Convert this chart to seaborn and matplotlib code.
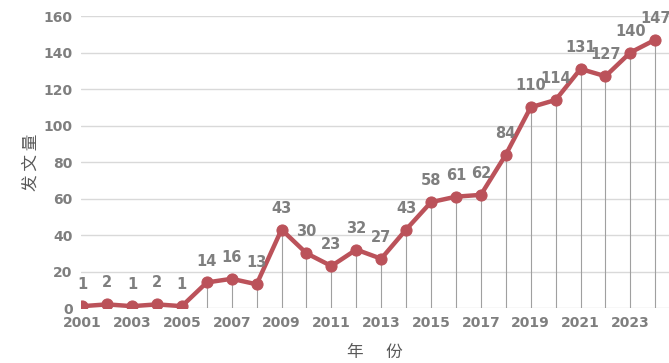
import pandas as pd
import matplotlib
matplotlib.use('Agg')
import matplotlib.pyplot as plt
import seaborn as sns

# dados
anos = list(range(2001, 2025))
valores = [1, 2, 1, 2, 1, 14, 16, 13, 43, 30, 23, 32, 27, 43, 58, 61, 62, 84,
           110, 114, 131, 127, 140, 147]
ticks_x = list(range(2001, 2025, 2))
ticks_y = list(range(0, 161, 20))

df = pd.DataFrame({'ano': anos, 'n': valores})

sns.set_style('white')
plt.rcParams['font.family'] = ['Noto Sans CJK SC', 'DejaVu Sans']

cor_linha = '#bb525a'
cor_texto = '#7f7f7f'

fig = plt.figure(figsize=(6.69, 3.63), dpi=100)
ax = fig.add_axes([0.121, 0.1515, 0.879, 0.8044])

# linhas verticais até o eixo
ax.vlines(df['ano'], 0, df['n'], color='#a0a0a0', linewidth=0.8, zorder=1)
for y in ticks_y:
    ax.axhline(y, color='#d9d9d9', linewidth=1, zorder=0)

sns.lineplot(data=df, x='ano', y='n', color=cor_linha, linewidth=3.2,
             marker='o', markersize=8, markeredgecolor=cor_linha, ax=ax, zorder=3)

for a, v in zip(anos, valores):
    ax.annotate(str(v), (a, v), xytext=(0, 10), textcoords='offset points',
                ha='center', va='bottom', fontsize=10.5, fontweight='bold',
                color=cor_texto, family='DejaVu Sans')

ax.set_xlim(2000.95, 2024.55)
ax.set_ylim(0, 160)
ax.set_xticks(ticks_x)
ax.set_yticks(ticks_y)
ax.tick_params(length=0, labelsize=10, labelcolor=cor_texto, pad=6)
for lab in ax.get_xticklabels() + ax.get_yticklabels():
    lab.set_fontweight('bold')
    lab.set_family('DejaVu Sans')
for s in ax.spines.values():
    s.set_visible(False)

ax.set_xlabel('年      份', fontsize=12, color='#595959', labelpad=10)
ax.set_ylabel('发 文 量', fontsize=12, color='#595959')
ax.yaxis.set_label_coords(-0.07, 0.5)

fig.savefig('out.png', dpi=100)
